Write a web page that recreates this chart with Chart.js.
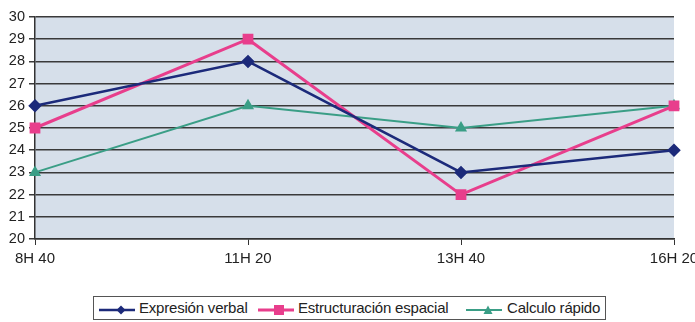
<!DOCTYPE html>
<html><head><meta charset="utf-8">
<script src="https://cdn.jsdelivr.net/npm/chart.js@4"></script>
<style>
html,body{margin:0;padding:0;background:#fff;}
#wrap{position:relative;width:695px;height:322px;overflow:hidden;}
#legend{position:absolute;left:93px;top:296px;width:513px;height:24px;border:1px solid #555;box-sizing:border-box;background:#fff;font-family:"Liberation Sans",Arial,sans-serif;font-size:15px;color:#222;white-space:nowrap;}
#legend .ic{position:absolute;top:5px;}
#legend .tx{position:absolute;top:2px;letter-spacing:-0.2px;}
</style></head>
<body><div id="wrap"><canvas id="c" width="695" height="322"></canvas><div id="legend"></div></div>
<script>
const categories = ["8H 40","11H 20","13H 40","16H 20"];
const expresionVerbal = [26, 28, 23, 24];
const estructuracionEspacial = [25, 29, 22, 26];
const calculoRapido = [23, 26, 25, 26];
const seriesNames = ["Expresión verbal","Estructuración espacial","Calculo rápido"];
const yTicks = [20,21,22,23,24,25,26,27,28,29,30];

const colors = ["#1c2a7a","#e83e8c","#3a9e86"];
const bgPlugin = {
  id:'bg',
  beforeDraw(chart){
    const {ctx, chartArea:a} = chart;
    ctx.save();
    ctx.fillStyle = '#d6dfea';
    ctx.fillRect(a.left, a.top, a.right-a.left, a.bottom-a.top);
    ctx.restore();
  }
};
new Chart(document.getElementById('c'), {
  type:'line',
  data:{
    labels:categories,
    datasets:[
      {label:seriesNames[0], data:expresionVerbal, borderColor:colors[0], backgroundColor:colors[0], borderWidth:2.5, pointStyle:'rectRot', pointRadius:5, pointHoverRadius:5, tension:0},
      {label:seriesNames[1], data:estructuracionEspacial, borderColor:colors[1], backgroundColor:colors[1], borderWidth:3, pointStyle:'rect', pointRadius:5.5, pointHoverRadius:5.5, tension:0},
      {label:seriesNames[2], data:calculoRapido, borderColor:colors[2], backgroundColor:colors[2], borderWidth:2, pointStyle:'triangle', pointRadius:5, pointHoverRadius:5, tension:0}
    ]
  },
  options:{
    responsive:false, animation:false,
    layout:{autoPadding:false, padding:{left:0,right:21,top:17,bottom:0}},
    plugins:{legend:{display:false}, tooltip:{enabled:false}},
    scales:{
      x:{
        offset:false,
        grid:{drawOnChartArea:false, drawTicks:true, tickLength:6, color:'#333', lineWidth:1},
        border:{display:true, color:'#333', width:1.5},
        ticks:{font:{family:'"Liberation Sans", Arial, sans-serif', size:15}, color:'#222', padding:5, maxRotation:0, autoSkip:false},
        afterFit(s){ s.height = 83; s.paddingLeft = 0; s.paddingRight = 0; }
      },
      y:{
        min:20, max:30,
        afterBuildTicks(s){ s.ticks = yTicks.map(v=>({value:v})); },
        grid:{color:'#3a3a3a', lineWidth:1.5, tickLength:6, drawTicks:true},
        border:{display:true, color:'#333', width:1.5},
        ticks:{font:{family:'"Liberation Sans", Arial, sans-serif', size:14.5}, color:'#222', padding:4},
        afterFit(s){ s.width = 35; s.paddingTop = 0; s.paddingBottom = 0; }
      }
    }
  },
  plugins:[bgPlugin]
});

// HTML legend (positions relative to legend box left = 93)
const leg = document.getElementById('legend');
const iconX = [5, 164, 372];
const textX = [45, 204, 413];
const shapes = [
  '<polygon points="22,1.5 26.5,6 22,10.5 17.5,6" fill="'+colors[0]+'"/>',
  '<rect x="16" y="1" width="10" height="10" fill="'+colors[1]+'"/>',
  '<polygon points="22,1.5 26.5,10 17.5,10" fill="'+colors[2]+'"/>'
];
const widths=[2.5,3,2];
seriesNames.forEach((n,i)=>{
  const ic=document.createElement('div'); ic.className='ic'; ic.style.left=iconX[i]+'px';
  ic.innerHTML='<svg width="36" height="12"><line x1="0" y1="6" x2="36" y2="6" stroke="'+colors[i]+'" stroke-width="'+widths[i]+'"/>'+shapes[i]+'</svg>';
  const tx=document.createElement('span'); tx.className='tx'; tx.style.left=textX[i]+'px'; tx.textContent=n;
  leg.appendChild(ic); leg.appendChild(tx);
});
</script></body></html>
